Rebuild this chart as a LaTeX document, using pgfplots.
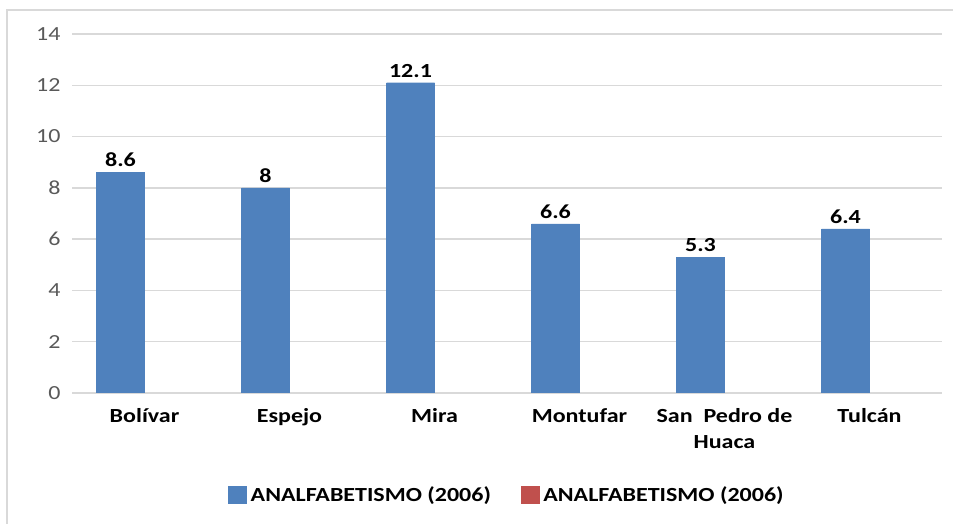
\documentclass[border=0pt]{standalone}
\usepackage{fontspec}
\setmainfont{Carlito}[FakeStretch=1.2]
\usepackage{pgfplots}
\pgfplotsset{compat=1.18}
\definecolor{barblue}{HTML}{4F81BD}
\definecolor{barred}{HTML}{C0504D}
\definecolor{gridgray}{HTML}{D9D9D9}
\definecolor{ticktext}{HTML}{595959}
\begin{document}
\begin{tikzpicture}
\path[use as bounding box] (0,0) rectangle (953bp,524bp);
% chart frame (top and left edges visible)
\draw[gridgray, line width=1.5bp] (7bp,0) -- (7bp,514bp) -- (953bp,514bp);
\begin{axis}[
    at={(72bp,131bp)}, anchor=south west,
    scale only axis,
    width=870bp, height=359bp,
    ymin=0, ymax=14,
    ytick={0,2,...,14},
    xmin=-0.5, xmax=5.5,
    xtick={0,1,2,3,4,5},
    xticklabels={Bolívar, Espejo, Mira, Montufar, {San\ \ Pedro de\\Huaca}, Tulcán},
    axis line style={draw=none},
    major tick length=0,
    ymajorgrids,
    grid style={gridgray, line width=1.3bp},
    /pgf/number format/assume math mode=true,
    yticklabel style={font=\fontsize{20bp}{24bp}\selectfont, text=ticktext, xshift=-8bp},
    xticklabel style={font=\bfseries\fontsize{20bp}{26bp}\selectfont, align=center, anchor=north, yshift=-12bp},
    legend columns=2,
    legend style={at={(0.5,-0.284)}, anchor=center, draw=none,
        font=\bfseries\fontsize{20bp}{24bp}\selectfont,
        /tikz/every odd column/.append style={column sep=2bp},
        /tikz/every even column/.append style={column sep=28bp}},
    legend image code/.code={\draw[#1] (0bp,-8.5bp) rectangle (18bp,8.5bp);},
]
\addplot[ybar, bar width=48bp, bar shift=-24bp, fill=barblue, draw=barblue,
    nodes near coords,
    every node near coord/.append style={font=\bfseries\fontsize{20bp}{24bp}\selectfont, text=black, yshift=2bp, xshift=-24bp},
    point meta=explicit symbolic]
    coordinates {(0,8.6)[8.6] (1,8)[8] (2,12.1)[12.1] (3,6.6)[6.6] (4,5.3)[5.3] (5,6.4)[6.4]};
\addlegendentry{ANALFABETISMO (2006)}
\addlegendimage{fill=barred, draw=barred}
\addlegendentry{ANALFABETISMO (2006)}
\end{axis}
\end{tikzpicture}
\end{document}
